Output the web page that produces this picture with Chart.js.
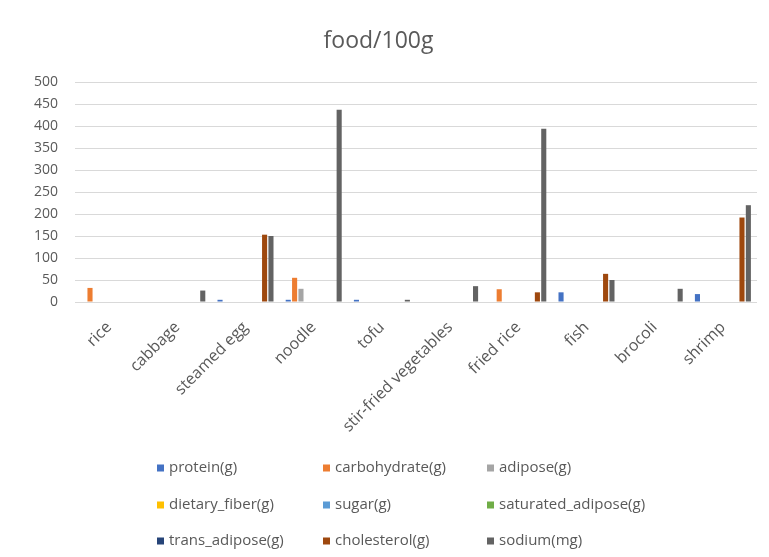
<!DOCTYPE html>
<html>
<head>
<meta charset="utf-8">
<style>
  html, body { margin: 0; padding: 0; background: #ffffff; }
  #wrap { width: 769px; height: 557px; position: relative; }
</style>
<script src="https://cdn.jsdelivr.net/npm/chart.js@4/dist/chart.umd.min.js"></script>
</head>
<body>
<div id="wrap"><canvas id="c" width="769" height="557"></canvas></div>
<script>
// Foods (per 100 g)
const foods = ['rice', 'cabbage', 'steamed egg', 'noodle', 'tofu',
  'stir-fried vegetables', 'fried rice', 'fish', 'brocoli', 'shrimp'];

// Nutrient series, one value per food
const protein       = [0, 0, 5, 5, 5, 0, 0, 22, 0, 18];
const carbohydrate  = [32, 0, 0, 55, 0, 0, 29, 0, 0, 0];
const adipose       = [0, 0, 0, 30, 0, 0, 0, 0, 0, 0];
const dietaryFiber  = [0, 0, 0, 0, 0, 0, 0, 0, 0, 0];
const sugar         = [0, 0, 0, 0, 0, 0, 0, 0, 0, 0];
const saturatedFat  = [0, 0, 0, 0, 0, 0, 0, 0, 0, 0];
const transFat      = [0, 0, 0, 0, 0, 0, 0, 0, 0, 0];
const cholesterol   = [0, 0, 153, 0, 0, 0, 22, 64, 0, 192];
const sodium        = [0, 26, 150, 437, 5, 36, 394, 50, 30, 220];

// Value axis ticks
const yTicks = [0, 50, 100, 150, 200, 250, 300, 350, 400, 450, 500];

const seriesNames = ['protein(g)', 'carbohydrate(g)', 'adipose(g)', 'dietary_fiber(g)',
  'sugar(g)', 'saturated_adipose(g)', 'trans_adipose(g)', 'cholesterol(g)', 'sodium(mg)'];
const seriesData = [protein, carbohydrate, adipose, dietaryFiber, sugar,
  saturatedFat, transFat, cholesterol, sodium];
const seriesColors = ['#4472C4', '#ED7D31', '#A5A5A5', '#FFC000', '#5B9BD5',
  '#70AD47', '#264478', '#9E480E', '#636363'];

const FONT = "'Open Sans', 'Liberation Sans', sans-serif";
const TEXT = '#595959';

// Three-column legend drawn under the category labels
const gridLegend = {
  id: 'gridLegend',
  afterDraw(chart) {
    const ctx = chart.ctx;
    const colX = [157, 323, 487];
    const rowY = [468, 505, 541];
    ctx.save();
    ctx.font = '15px ' + FONT;
    ctx.textBaseline = 'middle';
    ctx.textAlign = 'left';
    chart.data.datasets.forEach((ds, i) => {
      const x = colX[i % 3];
      const y = rowY[Math.floor(i / 3)];
      ctx.fillStyle = ds.backgroundColor;
      ctx.fillRect(x, y - 3.5, 7, 7);
      ctx.fillStyle = TEXT;
      ctx.fillText(ds.label, x + 12, y);
    });
    ctx.restore();
  }
};

new Chart(document.getElementById('c'), {
  type: 'bar',
  data: {
    labels: foods,
    datasets: seriesNames.map((name, i) => ({
      label: name,
      data: seriesData[i],
      backgroundColor: seriesColors[i],
      borderWidth: 0,
      categoryPercentage: 0.84,
      barPercentage: 0.8
    }))
  },
  options: {
    responsive: false,
    animation: false,
    layout: { padding: { left: 0, right: 12, top: 0, bottom: 0 } },
    plugins: {
      legend: { display: false },
      tooltip: { enabled: false },
      title: {
        display: true,
        text: 'food/100g',
        color: TEXT,
        font: { family: FONT, size: 23, weight: 'normal' },
        padding: { top: 28, bottom: 26.4 }
      }
    },
    scales: {
      x: {
        grid: { display: false },
        border: { display: false },
        ticks: {
          color: TEXT,
          font: { family: FONT, size: 16 },
          minRotation: 45,
          maxRotation: 45,
          autoSkip: false,
          padding: 8
        },
        afterFit(scale) { scale.height = 255; }
      },
      y: {
        min: 0,
        max: 500,
        afterBuildTicks(scale) { scale.ticks = yTicks.map(v => ({ value: v })); },
        grid: { color: '#d9d9d9', lineWidth: 1, drawTicks: false },
        border: { display: false },
        ticks: {
          color: TEXT,
          font: { family: FONT, size: 14 },
          padding: 17
        },
        afterFit(scale) { scale.width = 75; }
      }
    }
  },
  plugins: [gridLegend]
});
</script>
</body>
</html>
